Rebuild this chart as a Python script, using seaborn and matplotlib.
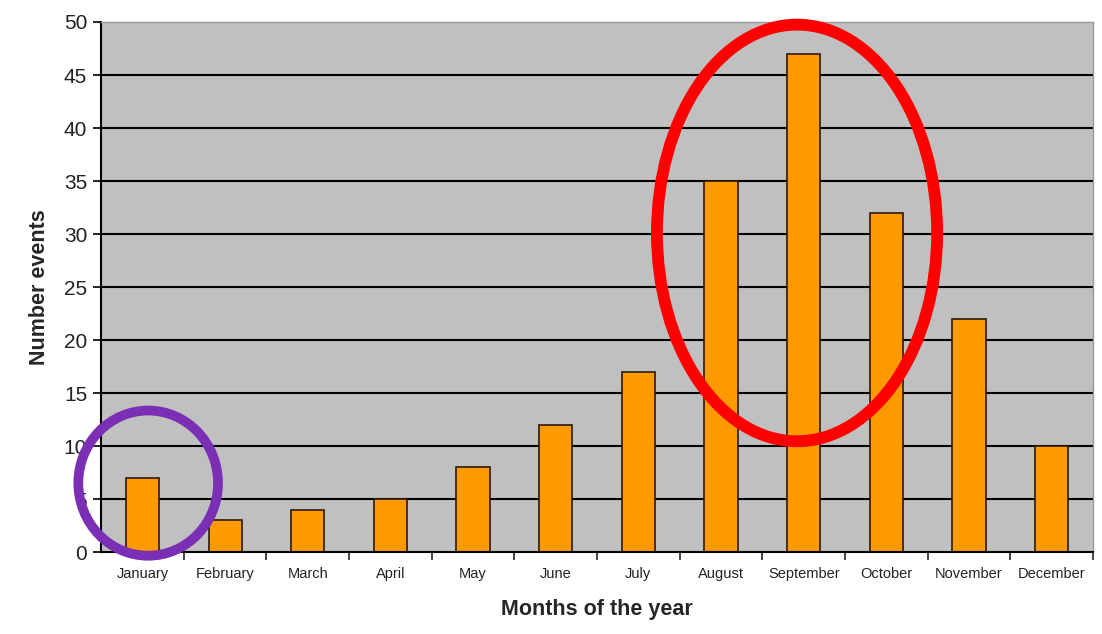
import matplotlib
matplotlib.use("Agg")
import matplotlib.pyplot as plt
from matplotlib.patches import Ellipse
import seaborn as sns
import pandas as pd
import numpy as np

# Data
months = ["January", "February", "March", "April", "May", "June",
          "July", "August", "September", "October", "November", "December"]
events = [7, 3, 4, 5, 8, 12, 17, 35, 47, 32, 22, 10]
y_ticks = [0, 5, 10, 15, 20, 25, 30, 35, 40, 45, 50]

df = pd.DataFrame({"month": months, "events": events})

sns.set_style("white")
plt.rcParams["font.family"] = ["Liberation Sans", "DejaVu Sans"]

fig = plt.figure(figsize=(11.02, 6.34), dpi=100)
ax = fig.add_axes([0.0917, 0.1293, 0.9001, 0.836])
ax.set_facecolor("#c0c0c0")

# Horizontal gridlines behind bars
for t in y_ticks[1:-1]:
    ax.axhline(t, color="black", lw=1.5, zorder=0)

sns.barplot(data=df, x="month", y="events", color="#FF9900", width=0.4,
            edgecolor="#2a1a0a", linewidth=1.2, saturation=1, ax=ax, zorder=2)

ax.set_xlim(-0.5, len(months) - 0.5)
ax.set_ylim(0, 50)
ax.set_yticks(y_ticks)
ax.tick_params(axis="y", labelsize=15, length=6, width=1.2, direction="out",
               left=True, pad=4, colors="black")
ax.tick_params(axis="x", which="major", labelsize=10.5, length=0, pad=11)
ax.set_xticks(np.arange(len(months)) + 0.5, minor=True)
ax.tick_params(axis="x", which="minor", length=6, width=1.2, direction="out",
               bottom=True)
for lbl in ax.get_yticklabels():
    lbl.set_color("#222222")
for lbl in ax.get_xticklabels():
    lbl.set_color("#222222")

ax.set_xlabel("Months of the year", fontsize=15.5, fontweight="bold", labelpad=13)
ax.set_ylabel("Number events", fontsize=15.5, fontweight="bold", labelpad=10)

for side in ["left", "bottom"]:
    ax.spines[side].set_color("black")
    ax.spines[side].set_linewidth(1.5)
for side in ["top", "right"]:
    ax.spines[side].set_color("#999999")
    ax.spines[side].set_linewidth(1.0)

# Highlight annotations
ax.add_patch(Ellipse((0.07, 6.5), 1.69, 13.7, fill=False, edgecolor="#7B2FB5",
                     lw=7, clip_on=False, zorder=5))
ax.add_patch(Ellipse((7.92, 30.1), 3.39, 39.3, fill=False, edgecolor="#FF0000",
                     lw=8.5, clip_on=False, zorder=5))

fig.savefig("out.png", dpi=100, facecolor="white")
